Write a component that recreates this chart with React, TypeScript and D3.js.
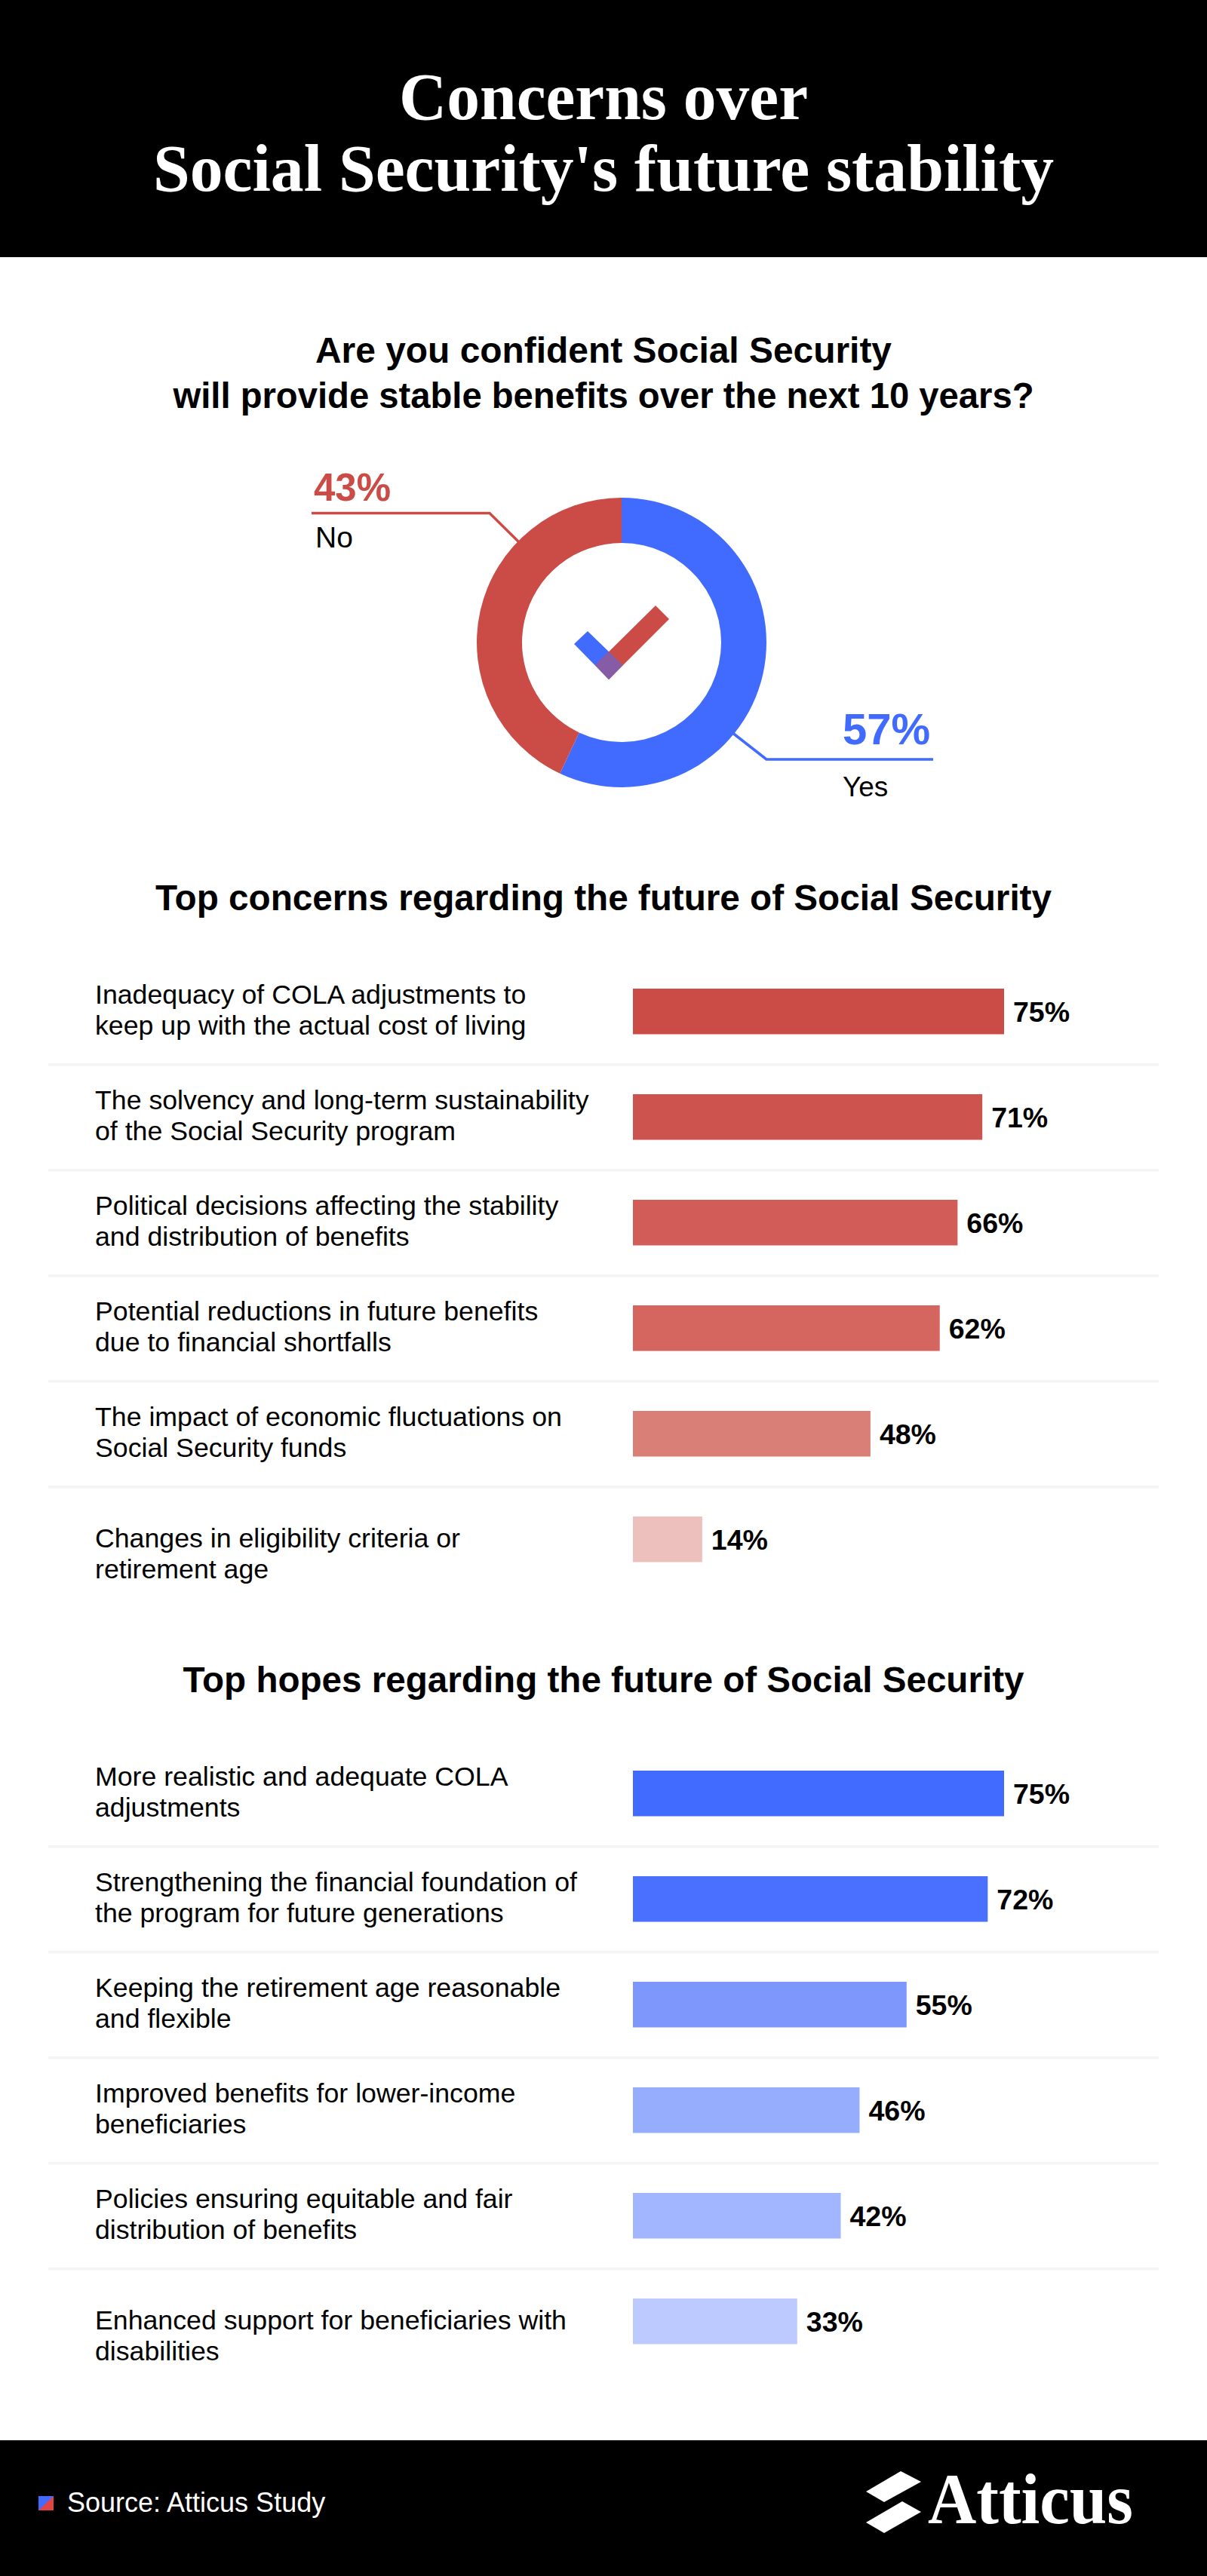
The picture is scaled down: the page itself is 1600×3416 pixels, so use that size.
import React from "react";
import * as d3 from "d3";

const titleLines = ["Concerns over", "Social Security's future stability"];
const questionLines = ["Are you confident Social Security", "will provide stable benefits over the next 10 years?"];
const donutLabels = ["Yes", "No"];
const donutValues = [57, 43];
const donutColors = ["#416BFF", "#CB4C46"];

const concernLabels = [
  ["Inadequacy of COLA adjustments to", "keep up with the actual cost of living"],
  ["The solvency and long-term sustainability", "of the Social Security program"],
  ["Political decisions affecting the stability", "and distribution of benefits"],
  ["Potential reductions in future benefits", "due to financial shortfalls"],
  ["The impact of economic fluctuations on", "Social Security funds"],
  ["Changes in eligibility criteria or", "retirement age"],
];
const concernValues = [75, 71, 66, 62, 48, 14];
const concernBarLengths = [75, 70.6, 65.6, 62, 48, 14];
const concernColors = ["#CB4C46", "#CD544E", "#D15C58", "#D5665F", "#DA7E78", "#EDBFBD"];

const hopeLabels = [
  ["More realistic and adequate COLA", "adjustments"],
  ["Strengthening the financial foundation of", "the program for future generations"],
  ["Keeping the retirement age reasonable", "and flexible"],
  ["Improved benefits for lower-income", "beneficiaries"],
  ["Policies ensuring equitable and fair", "distribution of benefits"],
  ["Enhanced support for beneficiaries with", "disabilities"],
];
const hopeValues = [75, 72, 55, 46, 42, 33];
const hopeBarLengths = [75, 71.7, 55.3, 45.8, 42, 33.2];
const hopeColors = ["#416BFF", "#4A70FF", "#7D97FC", "#96ADFE", "#A2B6FF", "#BCCAFF"];

const SANS = "'Liberation Sans', Arial, sans-serif";
const SERIF = "'Liberation Serif', serif";

const x = d3.scaleLinear().domain([0, 100]).range([839, 1495]);
const pieGen = d3.pie<number>().sort(null);
const arcGen = d3.arc<d3.PieArcDatum<number>>().innerRadius(132).outerRadius(192);
const poly = d3.line();

function Rows({ labels, values, lengths, colors, top }: { labels: string[][]; values: number[]; lengths: number[]; colors: string[]; top: number }) {
  const y = d3.scaleBand<number>().domain(d3.range(labels.length)).range([top, top + 140 * labels.length]);
  return (
    <g>
      {labels.map((l, i) => {
        const by = y(i) as number;
        const shift = i === labels.length - 1 ? 21 : 0;
        return (
          <g key={i}>
            <text x={126} fontFamily={SANS} fontSize={35.7} fill="#000">
              <tspan x={126} y={by + 20 + shift}>{l[0]}</tspan>
              <tspan x={126} y={by + 61 + shift}>{l[1]}</tspan>
            </text>
            <rect x={x(0)} y={by} width={x(lengths[i]) - x(0)} height={60.5} fill={colors[i]} />
            <text x={x(lengths[i]) + 12} y={by + 43.5} fontFamily={SANS} fontSize={37.5} fontWeight={700} fill="#000">
              {values[i]}%
            </text>
            {i < labels.length - 1 && <rect x={64} y={by + 99} width={1472} height={3.5} fill="#F4F4F4" />}
          </g>
        );
      })}
    </g>
  );
}

export default function App() {
  const arcs = pieGen(donutValues);
  return (
    <svg width={1600} height={3416} viewBox="0 0 1600 3416" style={{ position: "absolute", left: 0, top: 0, display: "block", background: "#fff" }}>
      <rect x={0} y={0} width={1600} height={341} fill="#000" />
      <text x={800} y={158} textAnchor="middle" fontFamily={SERIF} fontWeight={700} fontSize={88} fill="#fff" textLength={542} lengthAdjust="spacingAndGlyphs">{titleLines[0]}</text>
      <text x={800} y={253} textAnchor="middle" fontFamily={SERIF} fontWeight={700} fontSize={88} fill="#fff" textLength={1194} lengthAdjust="spacingAndGlyphs">{titleLines[1]}</text>

      <text x={800} y={481} textAnchor="middle" fontFamily={SANS} fontWeight={700} fontSize={48} fill="#000" textLength={764} lengthAdjust="spacingAndGlyphs">{questionLines[0]}</text>
      <text x={800} y={541} textAnchor="middle" fontFamily={SANS} fontWeight={700} fontSize={48} fill="#000" textLength={1141} lengthAdjust="spacingAndGlyphs">{questionLines[1]}</text>

      <g transform="translate(824,852)">
        {arcs.map((a, i) => (
          <path key={i} d={arcGen(a) as string} fill={donutColors[i]} />
        ))}
      </g>
      <path d={poly([[413, 680.5], [649, 680.5], [688, 719]]) as string} fill="none" stroke={donutColors[1]} strokeWidth={3.5} />
      <path d={poly([[970, 971], [1016, 1007], [1237, 1007]]) as string} fill="none" stroke={donutColors[0]} strokeWidth={3.5} />
      <text x={416} y={664} fontFamily={SANS} fontWeight={700} fontSize={51} fill={donutColors[1]}>{donutValues[1]}%</text>
      <text x={418} y={726} fontFamily={SANS} fontSize={39} fill="#000">{donutLabels[1]}</text>
      <text x={1117} y={987} fontFamily={SANS} fontWeight={700} fontSize={58} fill={donutColors[0]}>{donutValues[0]}%</text>
      <text x={1117} y={1056} fontFamily={SANS} fontSize={37} fill="#000">{donutLabels[0]}</text>

      <path d={poly([[761, 854], [779, 837], [825.5, 882], [807, 901]]) as string} fill="#416BFF" />
      <path d={poly([[869, 803], [887, 821], [807, 901], [789, 882]]) as string} fill="#CB4C46" />
      <path d={poly([[807, 864], [825.5, 882], [807, 901], [789, 882]]) as string} fill="#855CA5" />

      <text x={800} y={1207} textAnchor="middle" fontFamily={SANS} fontWeight={700} fontSize={48} fill="#000" textLength={1188} lengthAdjust="spacingAndGlyphs">Top concerns regarding the future of Social Security</text>
      <Rows labels={concernLabels} values={concernValues} lengths={concernBarLengths} colors={concernColors} top={1311} />

      <text x={800} y={2244} textAnchor="middle" fontFamily={SANS} fontWeight={700} fontSize={48} fill="#000" textLength={1115} lengthAdjust="spacingAndGlyphs">Top hopes regarding the future of Social Security</text>
      <Rows labels={hopeLabels} values={hopeValues} lengths={hopeBarLengths} colors={hopeColors} top={2348} />

      <rect x={0} y={3236} width={1600} height={180} fill="#000" />
      <rect x={51} y={3310} width={20} height={19} fill="#416BFF" />
      <path d={poly([[71, 3310], [71, 3329], [51, 3329]]) as string} fill="#E24444" />
      <text x={89} y={3331} fontFamily={SANS} fontSize={36} fill="#fff">Source: Atticus Study</text>
      <path d={poly([[1194, 3277], [1221, 3291], [1172, 3318], [1148, 3304]]) as string} fill="#fff" />
      <path d={poly([[1196, 3317], [1221, 3331], [1172, 3359], [1148, 3345]]) as string} fill="#fff" />
      <text x={1230} y={3346} fontFamily={SERIF} fontSize={96} fontWeight={700} fill="#fff" textLength={272} lengthAdjust="spacingAndGlyphs">Atticus</text>
    </svg>
  );
}
